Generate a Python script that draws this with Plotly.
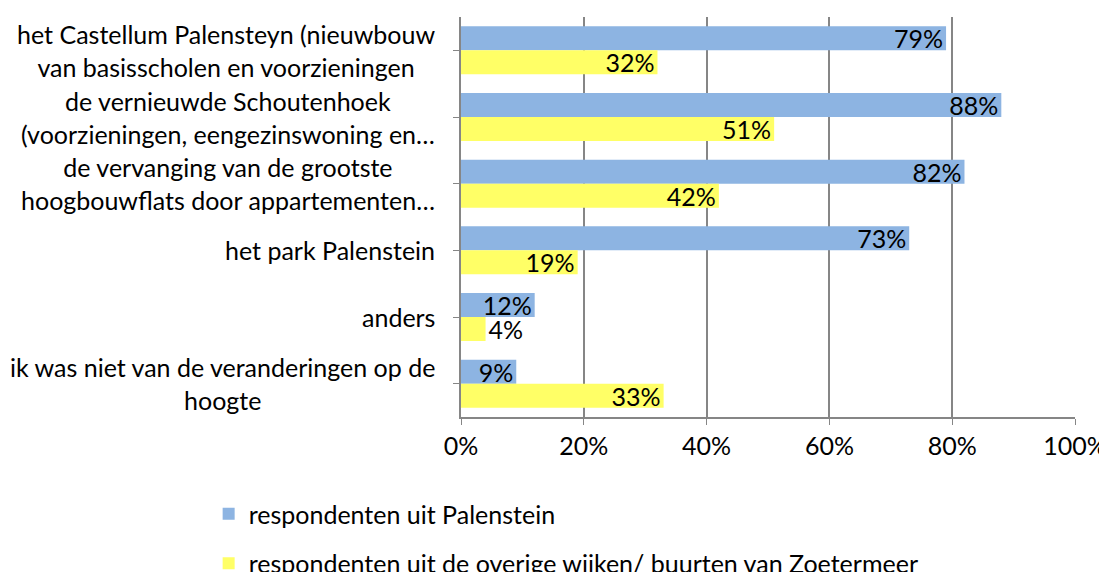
import plotly.graph_objects as go

categories = [
    "het Castellum Palensteyn (nieuwbouw<br>van basisscholen en voorzieningen",
    "de vernieuwde Schoutenhoek<br>(voorzieningen, eengezinswoning en…",
    "de vervanging van de grootste<br>hoogbouwflats door appartementen…",
    "het park Palenstein",
    "anders",
    "ik was niet van de veranderingen op de<br>hoogte",
]
series_names = [
    "respondenten uit Palenstein",
    "respondenten uit de overige wijken/ buurten van Zoetermeer",
]
palenstein = [0.79, 0.88, 0.82, 0.73, 0.12, 0.09]
overige = [0.32, 0.51, 0.42, 0.19, 0.04, 0.33]
x_ticks = [0, 0.2, 0.4, 0.6, 0.8, 1.0]

FONT = "Lato"
FS = 25
keys = list(range(len(categories)))

fig = go.Figure()
for name, vals, col, grp in [
    (series_names[0], palenstein, "#8DB4E2", "a"),
    (series_names[1], overige, "#FFFF66", "b"),
]:
    fig.add_trace(go.Bar(
        y=keys, x=vals, orientation="h", name=name, legendgroup=grp,
        marker=dict(color=col, line=dict(width=0)),
        text=[f"{round(v*100)}%" for v in vals],
        textposition=["outside" if v < 0.06 else "inside" for v in vals],
        insidetextanchor="end",
        textfont=dict(family=FONT, size=FS, color="black"),
        constraintext="none", cliponaxis=False,
    ))

for k, c in zip(keys, categories):
    fig.add_annotation(
        x=0, xref="paper", y=k, yref="y", text=c, showarrow=False,
        xanchor="right", yanchor="middle", align="center", xshift=-24,
        font=dict(family=FONT, size=FS, color="black"),
    )

fig.update_layout(
    width=1099, height=564,
    margin=dict(l=453, r=32, t=9, b=155, autoexpand=False),
    paper_bgcolor="white", plot_bgcolor="white",
    barmode="group", bargap=0.28, bargroupgap=0,
    uniformtext=dict(minsize=FS, mode="show"),
    font=dict(family=FONT, size=FS, color="black"),
    showlegend=True,
    legend=dict(
        orientation="v", x=-0.411, xanchor="left", y=-0.185, yanchor="top",
        traceorder="grouped", tracegroupgap=14,
        font=dict(family=FONT, size=FS, color="black"),
    ),
    xaxis=dict(
        range=[0, 1], tickvals=x_ticks, tickformat=".0%",
        showgrid=True, gridcolor="#868686", gridwidth=1.5,
        showline=True, linecolor="#868686", linewidth=1.5,
        ticks="outside", ticklen=6, tickcolor="#868686",
        zeroline=False, fixedrange=True, automargin=False,
        tickfont=dict(family=FONT, size=FS),
    ),
    yaxis=dict(
        range=[len(categories) - 0.5, -0.5],
        tickvals=keys, ticktext=[""] * len(keys), tickson="boundaries",
        showline=True, linecolor="#868686", linewidth=1.5,
        ticks="outside", ticklen=6, tickcolor="#868686",
        showgrid=False, zeroline=False, fixedrange=True, automargin=False,
    ),
)

fig.write_html("out.html")
